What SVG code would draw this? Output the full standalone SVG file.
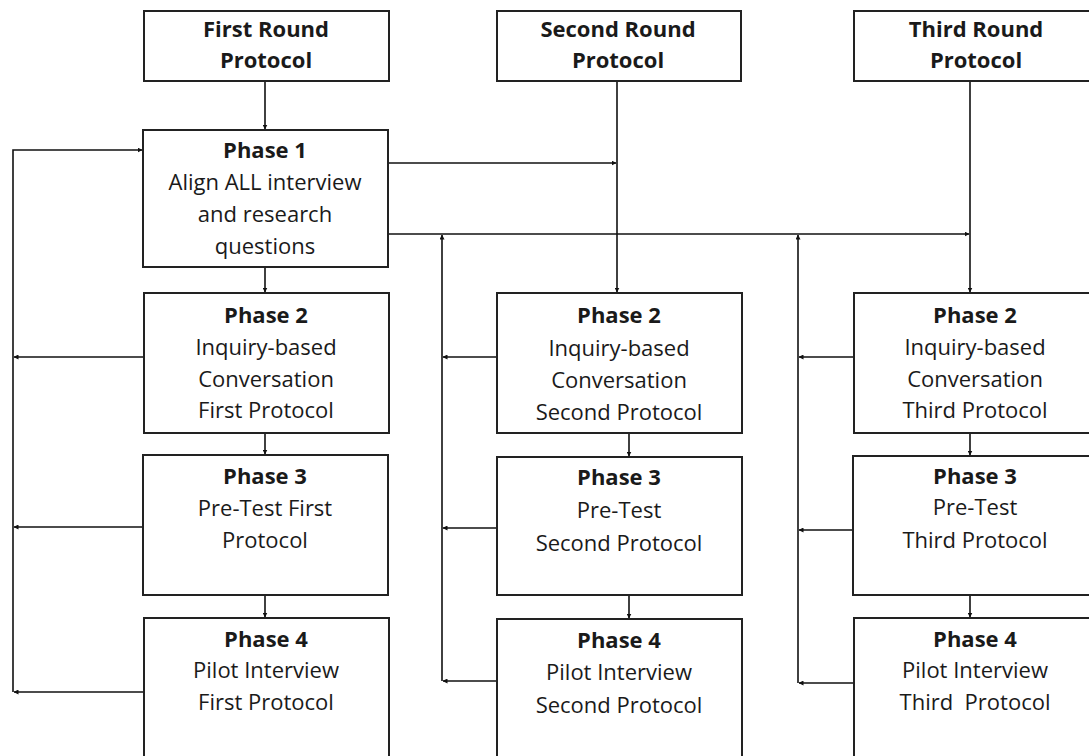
<svg xmlns="http://www.w3.org/2000/svg" width="1089" height="756" viewBox="0 0 1089 756">
  <style>
    .box { fill: #ffffff; stroke: #222222; stroke-width: 2; }
    .t { font-family: "Open Sans", "Liberation Sans", sans-serif; font-size: 22px; fill: #1a1a1a; text-anchor: middle; }
    .b { font-weight: bold; }
    .c { fill: none; stroke: #111111; stroke-width: 1.6; }
  </style>
  <defs>
    <marker id="arr" viewBox="0 0 10 10" refX="9" refY="5" markerWidth="5" markerHeight="5" markerUnits="userSpaceOnUse" orient="auto">
      <path d="M0,0 L10,5 L0,10 z" fill="#111111"/>
    </marker>
  </defs>
  <rect width="1089" height="756" fill="#ffffff"/>

  <!-- connectors -->
  <g id="connectors">
    <!-- round protocols down into phases -->
    <line class="c" x1="265" y1="82" x2="265" y2="129" marker-end="url(#arr)"/>
    <line class="c" x1="617" y1="82" x2="617" y2="292" marker-end="url(#arr)"/>
    <line class="c" x1="970" y1="82" x2="970" y2="292" marker-end="url(#arr)"/>
    <!-- phase 1 out to other rounds -->
    <line class="c" x1="389" y1="163" x2="616" y2="163" marker-end="url(#arr)"/>
    <line class="c" x1="389" y1="234" x2="969" y2="234" marker-end="url(#arr)"/>
    <!-- phase chain, column 1 -->
    <line class="c" x1="265" y1="268" x2="265" y2="292" marker-end="url(#arr)"/>
    <line class="c" x1="265" y1="434" x2="265" y2="454" marker-end="url(#arr)"/>
    <line class="c" x1="265" y1="596" x2="265" y2="617" marker-end="url(#arr)"/>
    <!-- phase chain, column 2 -->
    <line class="c" x1="629" y1="434" x2="629" y2="456" marker-end="url(#arr)"/>
    <line class="c" x1="629" y1="596" x2="629" y2="618" marker-end="url(#arr)"/>
    <!-- phase chain, column 3 -->
    <line class="c" x1="970" y1="434" x2="970" y2="455" marker-end="url(#arr)"/>
    <line class="c" x1="970" y1="596" x2="970" y2="617" marker-end="url(#arr)"/>
    <!-- feedback loop, column 1 -->
    <polyline class="c" points="13,692 13,150 142,150" marker-end="url(#arr)"/>
    <line class="c" x1="143" y1="357" x2="14" y2="357" marker-end="url(#arr)"/>
    <line class="c" x1="143" y1="527" x2="14" y2="527" marker-end="url(#arr)"/>
    <line class="c" x1="143" y1="692" x2="14" y2="692" marker-end="url(#arr)"/>
    <!-- feedback loop, column 2 -->
    <line class="c" x1="442" y1="681" x2="442" y2="235" marker-end="url(#arr)"/>
    <line class="c" x1="496" y1="357" x2="443" y2="357" marker-end="url(#arr)"/>
    <line class="c" x1="496" y1="528" x2="443" y2="528" marker-end="url(#arr)"/>
    <line class="c" x1="496" y1="681" x2="443" y2="681" marker-end="url(#arr)"/>
    <!-- feedback loop, column 3 -->
    <line class="c" x1="798" y1="683" x2="798" y2="235" marker-end="url(#arr)"/>
    <line class="c" x1="853" y1="357" x2="799" y2="357" marker-end="url(#arr)"/>
    <line class="c" x1="853" y1="530" x2="799" y2="530" marker-end="url(#arr)"/>
    <line class="c" x1="853" y1="683" x2="799" y2="683" marker-end="url(#arr)"/>
  </g>

  <!-- top row: round protocols -->
  <g id="first-round">
    <rect class="box" x="144" y="11" width="245" height="70"/>
    <text class="t b" x="266" y="37">First Round</text>
    <text class="t b" x="266" y="68">Protocol</text>
  </g>
  <g id="second-round">
    <rect class="box" x="497" y="11" width="244" height="70"/>
    <text class="t b" x="618" y="37">Second Round</text>
    <text class="t b" x="618" y="68">Protocol</text>
  </g>
  <g id="third-round">
    <rect class="box" x="854" y="11" width="250" height="70"/>
    <text class="t b" x="976" y="37">Third Round</text>
    <text class="t b" x="976" y="68">Protocol</text>
  </g>

  <!-- phase 1 -->
  <g id="phase1">
    <rect class="box" x="143" y="130" width="245" height="137"/>
    <text class="t b" x="265" y="158">Phase 1</text>
    <text class="t" x="265" y="190">Align ALL interview</text>
    <text class="t" x="265" y="222">and research</text>
    <text class="t" x="265" y="254">questions</text>
  </g>

  <!-- column 1 -->
  <g id="phase2-first">
    <rect class="box" x="144" y="293" width="245" height="140"/>
    <text class="t b" x="266" y="323">Phase 2</text>
    <text class="t" x="266" y="355">Inquiry-based</text>
    <text class="t" x="266" y="387">Conversation</text>
    <text class="t" x="266" y="418">First Protocol</text>
  </g>
  <g id="phase3-first">
    <rect class="box" x="143" y="455" width="245" height="140"/>
    <text class="t b" x="265" y="484">Phase 3</text>
    <text class="t" x="265" y="516">Pre-Test First</text>
    <text class="t" x="265" y="548">Protocol</text>
  </g>
  <g id="phase4-first">
    <rect class="box" x="144" y="618" width="245" height="150"/>
    <text class="t b" x="266" y="647">Phase 4</text>
    <text class="t" x="266" y="678">Pilot Interview</text>
    <text class="t" x="266" y="710">First Protocol</text>
  </g>

  <!-- column 2 -->
  <g id="phase2-second">
    <rect class="box" x="497" y="293" width="245" height="140"/>
    <text class="t b" x="619" y="323">Phase 2</text>
    <text class="t" x="619" y="356">Inquiry-based</text>
    <text class="t" x="619" y="388">Conversation</text>
    <text class="t" x="619" y="420">Second Protocol</text>
  </g>
  <g id="phase3-second">
    <rect class="box" x="497" y="457" width="245" height="138"/>
    <text class="t b" x="619" y="485">Phase 3</text>
    <text class="t" x="619" y="518">Pre-Test</text>
    <text class="t" x="619" y="551">Second Protocol</text>
  </g>
  <g id="phase4-second">
    <rect class="box" x="497" y="619" width="245" height="150"/>
    <text class="t b" x="619" y="648">Phase 4</text>
    <text class="t" x="619" y="680">Pilot Interview</text>
    <text class="t" x="619" y="713">Second Protocol</text>
  </g>

  <!-- column 3 -->
  <g id="phase2-third">
    <rect class="box" x="854" y="293" width="250" height="140"/>
    <text class="t b" x="975" y="323">Phase 2</text>
    <text class="t" x="975" y="355">Inquiry-based</text>
    <text class="t" x="975" y="387">Conversation</text>
    <text class="t" x="975" y="418">Third Protocol</text>
  </g>
  <g id="phase3-third">
    <rect class="box" x="853" y="456" width="250" height="139"/>
    <text class="t b" x="975" y="484">Phase 3</text>
    <text class="t" x="975" y="515">Pre-Test</text>
    <text class="t" x="975" y="548">Third Protocol</text>
  </g>
  <g id="phase4-third">
    <rect class="box" x="854" y="618" width="250" height="150"/>
    <text class="t b" x="975" y="647">Phase 4</text>
    <text class="t" x="975" y="678">Pilot Interview</text>
    <text class="t" x="975" y="710" xml:space="preserve">Third  Protocol</text>
  </g>
</svg>
